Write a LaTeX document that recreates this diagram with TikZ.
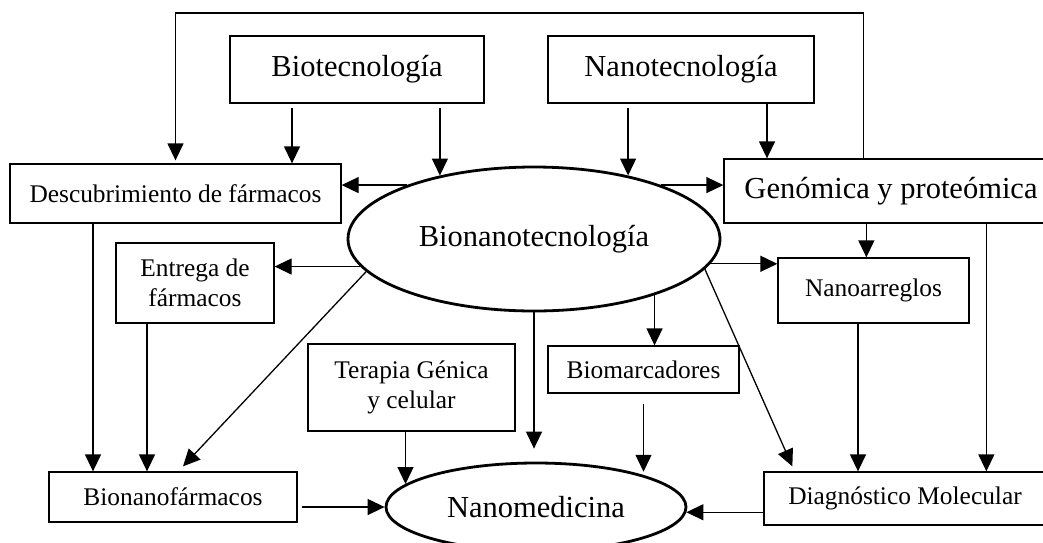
\documentclass[tikz,border=0pt]{standalone}
\usepackage{fontspec}
\setmainfont{Liberation Serif}
\usetikzlibrary{arrows.meta,shapes.geometric}
\begin{document}
\begin{tikzpicture}[x=1pt,y=-1pt,
  box/.style={draw, line width=1.3pt, rectangle, inner sep=0pt, align=center,
    font=\fontsize{25.4}{30}\selectfont},
  bigbox/.style={box, font=\fontsize{30.5}{36}\selectfont},
  oval/.style={draw, line width=2.8pt, ellipse, inner sep=0pt,
    font=\fontsize{30.5}{36}\selectfont},
  arr/.style={line width=1.3pt, -{Triangle[length=17pt,width=16pt]}}]

\path[use as bounding box] (0,0) rectangle (1043,542);

% sources
\node[bigbox, minimum width=254pt, minimum height=67pt] (bio)  at (357,69.5) {Biotecnología};
\node[bigbox, minimum width=266pt, minimum height=67pt] (nano) at (681,69.5) {Nanotecnología};

% central ellipse
\node[oval, minimum width=372pt, minimum height=144pt] (bionano) at (534,239) {Bionanotecnología};

% application boxes
\node[box, minimum width=331pt, minimum height=59pt] (desc) at (175.5,193.5) {Descubrimiento de fármacos};
\node[bigbox, minimum width=334pt, minimum height=64pt] (gen) at (891,191) {Genómica y proteómica};
\node[box, minimum width=158pt, minimum height=80pt] (entrega) at (195,283) {Entrega de\\fármacos};
\node[box, minimum width=191pt, minimum height=65pt] (nanoarr) at (873.5,290.5) {Nanoarreglos};
\node[box, minimum width=207pt, minimum height=87pt] (terapia) at (411.5,387.5) {Terapia Génica\\y celular};
\node[box, minimum width=191pt, minimum height=47pt] (biomarc) at (643.5,369.5) {Biomarcadores};
\node[box, minimum width=248pt, minimum height=50pt] (bnf) at (173,497) {Bionanofármacos};
\node[box, minimum width=282pt, minimum height=53pt] (diag) at (905,498.5) {Diagnóstico Molecular};

% target ellipse
\node[oval, minimum width=300pt, minimum height=88pt] (nanomed) at (536,507) {Nanomedicina};

\coordinate (looptop) at (500,13);

% feedback loop over the top
\draw[arr, shorten >=3pt] ([xshift=140pt]gen.north west) |- (looptop) -| (desc.north);

% from the source boxes
\draw[arr, shorten <=4pt] ([xshift=-65pt]bio.south) coordinate (t) -- (t |- desc.north);
\draw[arr, shorten <=4pt] (bionano.146 |- bio.south) -- (bionano.146);
\draw[arr, shorten <=4pt] (bionano.34 |- nano.south) -- (bionano.34);
\draw[arr] ([xshift=86pt]nano.south) coordinate (t) -- (t |- gen.north);

% out of Bionanotecnologia
\draw[arr] (bionano.157) -- (bionano.157 -| desc.east);
\draw[arr] (bionano.23) -- (bionano.23 -| gen.west);
\draw[arr] (bionano.189) -- (bionano.189 -| entrega.east);
\draw[arr] (bionano.191) -- ([xshift=10pt,yshift=5pt]bnf.north);
\draw[arr] (bionano.352) -- (bionano.352 -| nanoarr.west);
\draw[arr] (bionano.350) -- ([xshift=29pt,yshift=5pt]diag.north west);
\draw[arr, shorten >=13pt] (bionano.south) -- (bionano.south |- nanomed.north);
\draw[arr] (bionano.335) -- (bionano.335 |- biomarc.north);

% left column
\draw[arr] ([xshift=-82.5pt]desc.south) coordinate (t) -- (t |- bnf.north);
\draw[arr] ([xshift=-48pt]entrega.south) coordinate (t) -- (t |- bnf.north);

% right column
\draw[arr] ([xshift=143pt]gen.south west) coordinate (t) -- (t |- nanoarr.north);
\draw[arr] ([xshift=263pt]gen.south west) coordinate (t) -- (t |- diag.north);
\draw[arr] ([xshift=-15.5pt]nanoarr.south) coordinate (t) -- (t |- diag.north);

% into Nanomedicina
\draw[arr] (nanomed.170 |- terapia.south) -- (nanomed.170);
\draw[arr, shorten <=10pt, shorten >=5pt] (biomarc.south) -- (biomarc.south |- nanomed.15);
\draw[arr, shorten <=4pt] (bnf.east |- nanomed.west) -- (nanomed.west);
\draw[arr] (nanomed.358 -| diag.west) -- (nanomed.358);

\end{tikzpicture}
\end{document}
